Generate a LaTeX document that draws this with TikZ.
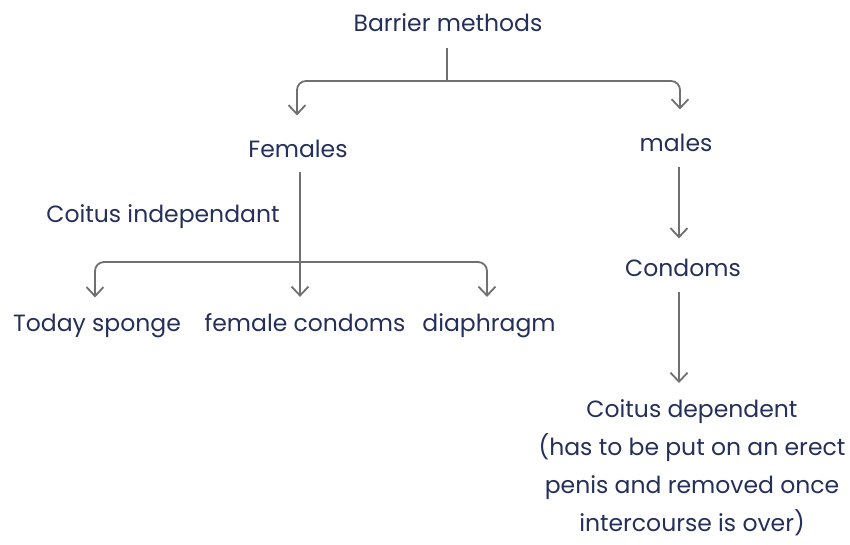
\documentclass[tikz,border=0pt]{standalone}
\usepackage{fontspec}
\setmainfont{Poppins}
\usetikzlibrary{arrows.meta}
\definecolor{ink}{HTML}{25305A}
\definecolor{wire}{HTML}{707070}
\tikzset{
  lbl/.style={text=ink, font=\fontsize{23.5}{38}\selectfont, inner sep=0pt, anchor=base},
  wirestem/.style={draw=wire, line width=1.8pt},
  link/.style={draw=wire, line width=1.8pt, rounded corners=9pt,
    -{Straight Barb[length=9pt,width=17pt,line width=1.8pt]}},
}
\begin{document}
\begin{tikzpicture}[x=1pt,y=-1pt]
\useasboundingbox (0,0) rectangle (850,544);
\fill[white] (0,0) rectangle (850,544);

% labels
\node[lbl] (bm)  at (448,31)  {Barrier methods};
\node[lbl] (fem) at (298,157) {Females};
\node[lbl] (mal) at (676,151) {males};
\node[lbl] (ci)  at (163,222) {Coitus independant};
\node[lbl] (ts)  at (97,331)  {Today sponge};
\node[lbl] (fc)  at (305,331) {female condoms};
\node[lbl] (dia) at (489,331) {diaphragm};
\node[lbl] (con) at (683,276) {Condoms};
\node[lbl, align=center, anchor=north] (cd) at (692,399)
  {Coitus dependent\\(has to be put on an erect\\penis and removed once\\intercourse is over)};

% split below the root
\coordinate (busA) at (447,81);
\draw[wirestem] ([xshift=-1pt,yshift=-17pt]bm.south) -- (busA);
\draw[link] (busA) -| ([xshift=-1pt,yshift=24pt]fem.north);
\draw[link] (busA) -| ([xshift=4pt,yshift=24pt]mal.north);

% female branch
\coordinate (busB) at (300,262);
\draw[link] ([xshift=2pt,yshift=-15pt]fem.south) -- ([xshift=-5pt,yshift=16pt]fc.north);
\draw[link] (busB) -| ([xshift=-2pt,yshift=16pt]ts.north);
\draw[link] (busB) -| ([xshift=-2pt,yshift=16pt]dia.north);

% male branch
\draw[link] ([xshift=3pt,yshift=-16pt]mal.south) -- ([xshift=-4pt,yshift=20pt]con.north);
\draw[link] ([xshift=-4pt,yshift=-16pt]con.south) -- ([xshift=-13pt,yshift=16pt]cd.north);
\end{tikzpicture}
\end{document}
